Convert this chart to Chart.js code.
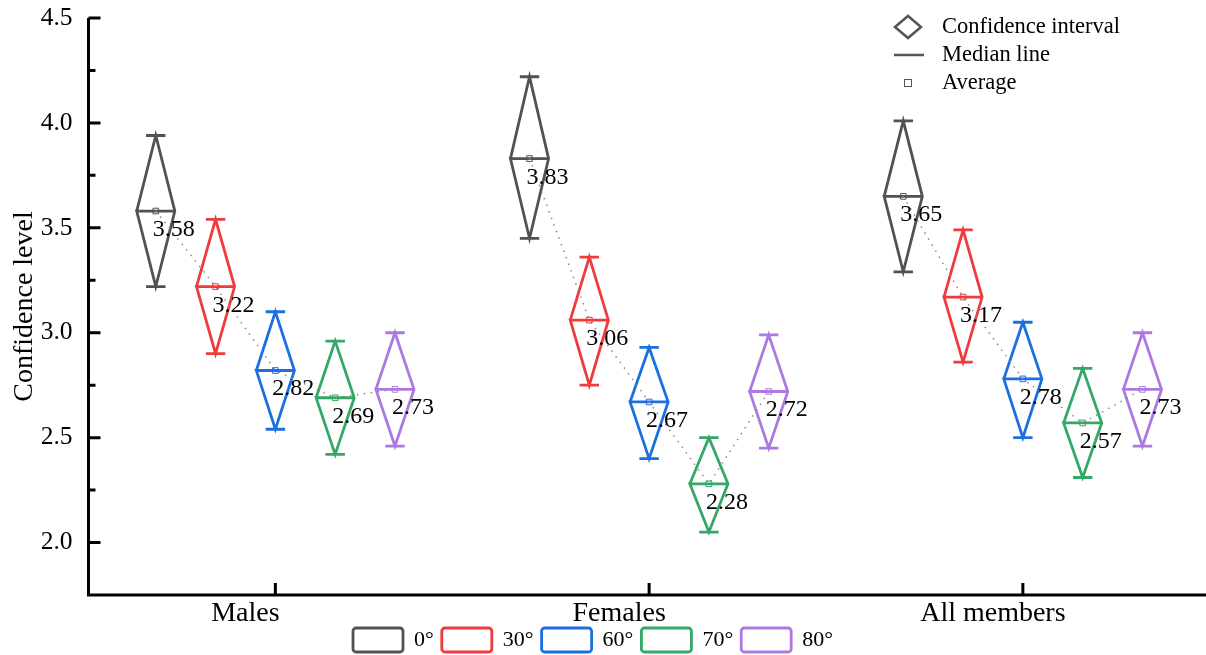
<!DOCTYPE html>
<html>
<head>
<meta charset="utf-8">
<script src="https://cdn.jsdelivr.net/npm/chart.js@4"></script>
<style>
  html, body { margin: 0; padding: 0; background: #fff; overflow: hidden; }
  #chart { display: block; }
</style>
</head>
<body>
<canvas id="chart" width="1206" height="655"></canvas>
<script>
const groups = ["Males", "Females", "All members"];
const angles = ["0°", "30°", "60°", "70°", "80°"];

// mean (also median) and confidence bounds, one value per angle
const maleMeans = [3.58, 3.22, 2.82, 2.69, 2.73];
const maleUpper = [3.94, 3.54, 3.10, 2.96, 3.00];
const maleLower = [3.22, 2.90, 2.54, 2.42, 2.46];

const femaleMeans = [3.83, 3.06, 2.67, 2.28, 2.72];
const femaleUpper = [4.22, 3.36, 2.93, 2.50, 2.99];
const femaleLower = [3.45, 2.75, 2.40, 2.05, 2.45];

const allMeans = [3.65, 3.17, 2.78, 2.57, 2.73];
const allUpper = [4.01, 3.49, 3.05, 2.83, 3.00];
const allLower = [3.29, 2.86, 2.50, 2.31, 2.46];

const yTicks = [2.0, 2.5, 3.0, 3.5, 4.0, 4.5];

const means = [maleMeans, femaleMeans, allMeans];
const uppers = [maleUpper, femaleUpper, allUpper];
const lowers = [maleLower, femaleLower, allLower];

const colors = ["#525252", "#ee3b3b", "#1c6fe0", "#34a866", "#ad78e2"];
const offsets = [-0.32, -0.16, 0, 0.16, 0.32];
const HALF_W = 0.051;
const CAP = 0.026;
const FONT = "'Liberation Serif', 'Times New Roman', serif";

function diamondPoints(i) {
  const pts = [];
  groups.forEach((g, gi) => {
    const x = gi + 1 + offsets[i];
    const hi = uppers[gi][i];
    const lo = lowers[gi][i];
    const md = means[gi][i];
    pts.push({ x: x - HALF_W, y: md }, { x: x, y: hi }, { x: x + HALF_W, y: md },
      { x: x, y: lo }, { x: x - HALF_W, y: md }, { x: x + HALF_W, y: md }, { x: x, y: null });
    pts.push({ x: x - CAP, y: hi }, { x: x + CAP, y: hi }, { x: x, y: null });
    pts.push({ x: x - CAP, y: lo }, { x: x + CAP, y: lo }, { x: x, y: null });
  });
  return pts;
}

const datasets = [];
groups.forEach((g, gi) => {
  datasets.push({
    label: "avg-" + g,
    data: means[gi].map((v, i) => ({ x: gi + 1 + offsets[i], y: v })),
    borderColor: "#8a8a8a",
    borderWidth: 1.5,
    borderDash: [1.5, 5.5],
    pointStyle: "rect",
    pointRadius: 4,
    pointHoverRadius: 4,
    pointBorderWidth: 1,
    pointBorderColor: colors,
    pointBackgroundColor: "rgba(0,0,0,0)",
    fill: false,
    order: 0,
  });
});
angles.forEach((a, i) => {
  datasets.push({
    label: a,
    data: diamondPoints(i),
    borderColor: colors[i],
    backgroundColor: "#ffffff",
    borderWidth: 2.8,
    borderJoinStyle: "miter",
    pointRadius: 0,
    pointHoverRadius: 0,
    spanGaps: false,
    tension: 0,
    fill: false,
    order: 1,
  });
});

const axesPlugin = {
  id: "axesPlugin",
  afterLayout(chart) {
    // nudge the bottom legend a little to the left, as in the original
    if (chart.legend) {
      chart.legend.left -= 10;
      chart.legend.right -= 10;
    }
  },
  afterDraw(chart) {
    const { ctx, chartArea, scales } = chart;
    const y = scales.y;
    const x = scales.x;
    ctx.save();
    ctx.strokeStyle = "#000";
    ctx.lineWidth = 3;
    ctx.beginPath();
    ctx.moveTo(chartArea.left, chartArea.top);
    ctx.lineTo(chartArea.left, chartArea.bottom + 1.5);
    ctx.moveTo(chartArea.left - 1.5, chartArea.bottom);
    ctx.lineTo(chartArea.right, chartArea.bottom);
    yTicks.forEach((v) => {
      const py = y.getPixelForValue(v);
      ctx.moveTo(chartArea.left, py);
      ctx.lineTo(chartArea.left + 12, py);
    });
    yTicks.slice(0, -1).forEach((v) => {
      const py = y.getPixelForValue(v + 0.25);
      ctx.moveTo(chartArea.left, py);
      ctx.lineTo(chartArea.left + 7, py);
    });
    groups.forEach((g, gi) => {
      const px = x.getPixelForValue(gi + 1);
      ctx.moveTo(px, chartArea.bottom);
      ctx.lineTo(px, chartArea.bottom - 12);
    });
    ctx.stroke();
    ctx.restore();
  },
};

const labelPlugin = {
  id: "labelPlugin",
  afterDatasetsDraw(chart) {
    const { ctx, scales } = chart;
    ctx.save();
    ctx.fillStyle = "#000";
    ctx.font = "24px " + FONT;
    ctx.textAlign = "left";
    ctx.textBaseline = "alphabetic";
    groups.forEach((g, gi) => {
      means[gi].forEach((v, i) => {
        const px = scales.x.getPixelForValue(gi + 1 + offsets[i]);
        const py = scales.y.getPixelForValue(v);
        ctx.fillText(v.toFixed(2), px - 3, py + 25);
      });
    });
    ctx.restore();
  },
};

const keyPlugin = {
  id: "keyPlugin",
  afterDraw(chart) {
    const { ctx, chartArea } = chart;
    const cx = chartArea.right - 298;
    const tx = chartArea.right - 264;
    const rows = [27, 55, 83];
    ctx.save();
    ctx.strokeStyle = "#555";
    ctx.lineWidth = 2.5;
    ctx.lineJoin = "miter";
    ctx.beginPath();
    ctx.moveTo(cx - 13, rows[0]);
    ctx.lineTo(cx, rows[0] - 11);
    ctx.lineTo(cx + 13, rows[0]);
    ctx.lineTo(cx, rows[0] + 11);
    ctx.closePath();
    ctx.stroke();
    ctx.beginPath();
    ctx.moveTo(cx - 14, rows[1]);
    ctx.lineTo(cx + 16, rows[1]);
    ctx.stroke();
    ctx.lineWidth = 1;
    ctx.strokeRect(cx - 3.5, rows[2] - 3.5, 7, 7);
    ctx.fillStyle = "#000";
    ctx.font = "22.5px " + FONT;
    ctx.textBaseline = "middle";
    ctx.textAlign = "left";
    ["Confidence interval", "Median line", "Average"].forEach((t, k) => {
      ctx.fillText(t, tx, rows[k]);
    });
    ctx.restore();
  },
};

new Chart(document.getElementById("chart"), {
  type: "line",
  data: { datasets: datasets },
  plugins: [axesPlugin, labelPlugin, keyPlugin],
  options: {
    responsive: false,
    animation: false,
    devicePixelRatio: 1,
    layout: { autoPadding: false, padding: { top: 18, right: 0, left: 0, bottom: -7 } },
    plugins: {
      tooltip: { enabled: false },
      legend: {
        position: "bottom",
        labels: {
          filter: (item) => !item.text.startsWith("avg-"),
          boxWidth: 50,
          boxHeight: 24,
          padding: 8,
          color: "#000",
          font: { family: FONT, size: 22 },
          useBorderRadius: true,
          borderRadius: 3,
        },
      },
    },
    scales: {
      x: {
        type: "linear",
        min: 0.5,
        max: 3.49,
        grid: { display: false, drawTicks: false },
        border: { display: false },
        afterBuildTicks: (scale) => {
          scale.ticks = groups.map((g, gi) => ({ value: gi + 1 }));
        },
        afterFit: (scale) => {
          scale.height = 25;
          scale.paddingLeft = 0;
          scale.paddingRight = 0;
          // labels run slightly past the short axis box, so no clipping
          scale._computeLabelArea = () => undefined;
        },
        ticks: {
          autoSkip: false,
          maxRotation: 0,
          padding: 5,
          labelOffset: -30,
          color: "#000",
          font: { family: FONT, size: 28, lineHeight: 1 },
          callback: (v) => groups[v - 1],
        },
      },
      y: {
        min: 1.75,
        max: 4.5,
        grid: { display: false, drawTicks: false },
        border: { display: false },
        afterBuildTicks: (scale) => {
          scale.ticks = yTicks.map((v) => ({ value: v }));
        },
        afterFit: (scale) => {
          scale.width = 88.5;
          scale.paddingTop = 0;
          scale.paddingBottom = 0;
        },
        ticks: {
          padding: 16,
          color: "#000",
          font: { family: FONT, size: 25.5 },
          callback: (v) => v.toFixed(1),
        },
        title: {
          display: true,
          text: "Confidence level",
          color: "#000",
          font: { family: FONT, size: 28, lineHeight: 1 },
          padding: { top: 11, bottom: 0 },
        },
      },
    },
  },
});
</script>
</body>
</html>
